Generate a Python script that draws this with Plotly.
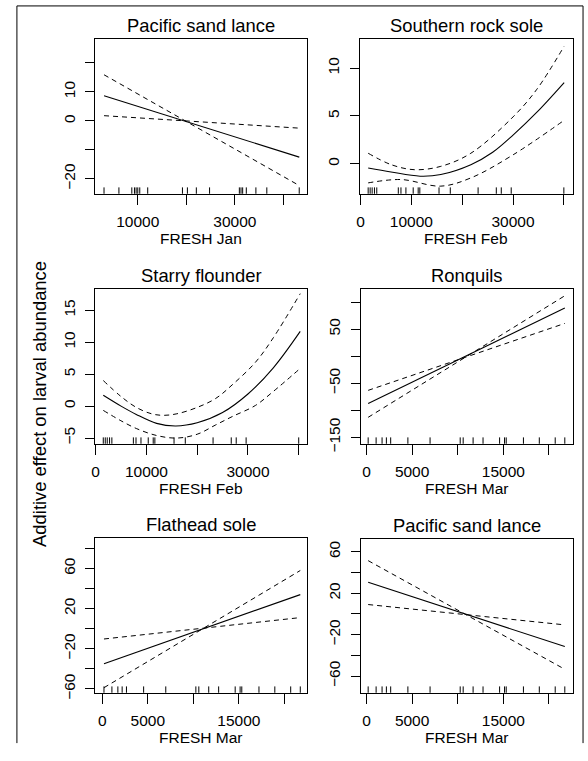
import plotly.graph_objects as go

W, H = 588, 761

# ---------------- data ----------------
titles = ["Pacific sand lance", "Southern rock sole", "Starry flounder",
          "Ronquils", "Flathead sole", "Pacific sand lance"]
xlabels = ["FRESH Jan", "FRESH Feb", "FRESH Feb", "FRESH Mar", "FRESH Mar", "FRESH Mar"]
ylabel = "Additive effect on larval abundance"

# Panel 1: Pacific sand lance ~ FRESH Jan
p1_x = [3050, 43270]
p1_fit = [8.7, -12.5]
p1_se_a = [15.9, -22.3]
p1_se_b = [1.8, -2.5]

# Panel 2: Southern rock sole ~ FRESH Feb
p2_x = [1500, 6000, 11700, 15800, 21700, 26000, 30000, 34700, 40060]
p2_fit = [-0.44, -0.86, -1.3, -1.13, -0.1, 1.2, 3.0, 5.4, 8.5]
p2_up_x = [1500, 6060, 10600, 15800, 21700, 30000, 34700, 40060]
p2_up = [1.1, -0.1, -0.62, -0.27, 1.1, 4.9, 7.8, 12.3]
p2_lo_x = [1500, 8000, 15800, 21700, 30000, 40060]
p2_lo = [-2.0, -1.65, -2.34, -1.48, 0.93, 4.55]

# Panel 3: Starry flounder ~ FRESH Feb
p3_x = [1500, 5000, 8000, 12000, 15800, 20000, 25000, 30000, 35000, 40300]
p3_fit = [1.7, 0.0, -1.3, -2.7, -3.1, -2.6, -1.0, 1.9, 6.0, 11.7]
p3_up_x = [1500, 5000, 8000, 11000, 13250, 16000, 20000, 23650, 27000, 31466, 35000, 40300]
p3_up = [4.0, 1.5, -0.2, -1.2, -1.44, -1.2, -0.2, 1.2, 3.4, 6.85, 10.7, 17.6]
p3_lo_x = [1500, 5000, 8000, 12000, 16000, 20000, 23650, 27000, 31466, 35000, 40300]
p3_lo = [-0.67, -2.3, -3.5, -4.6, -5.0, -4.4, -2.94, -1.6, 0.1, 2.3, 5.9]

# Panel 4: Ronquils ~ FRESH Mar
p4_x = [181, 21743]
p4_fit = [-87.2, 89.0]
p4_se_a = [-112.8, 111.7]
p4_se_b = [-63.0, 60.6]

# Panel 5: Flathead sole ~ FRESH Mar
p5_x = [181, 21743]
p5_fit = [-34.8, 34.0]
p5_se_a = [-58.7, 58.0]
p5_se_b = [-10.2, 11.1]

# Panel 6: Pacific sand lance ~ FRESH Mar
p6_x = [181, 21743]
p6_fit = [30.5, -31.4]
p6_se_a = [51.4, -53.3]
p6_se_b = [9.1, -10.5]

# Rug (observed covariate values)
rug_jan = [3047, 6114, 8773, 9318, 9659, 10000, 10409, 12045, 19202, 20225, 22065,
           24792, 30927, 31268, 31609, 32359, 34336, 36585, 43265]
rug_feb = [1498, 1889, 2280, 2736, 3192, 7427, 7948, 8925, 10358, 11336, 11661,
           15440, 17655, 23127, 26710, 27687, 29642, 40000]
rug_mar = [181, 1053, 1706, 2178, 2650, 4537, 6969, 10272, 10599, 11688, 12777,
           14592, 15136, 15318, 17205, 18947, 20690, 21743]

# Axis ticks
xt_jan = [10000, 20000, 30000, 40000]
xt_jan_txt = ["10000", "", "30000", ""]
xt_feb = [0, 10000, 20000, 30000, 40000]
xt_feb_txt = ["0", "10000", "", "30000", ""]
xt_mar = [0, 5000, 10000, 15000, 20000]
xt_mar_txt = ["0", "5000", "", "15000", ""]

yt1 = [-20, -10, 0, 10, 20]
yt1_txt = ["\u221220", "", "0", "10", ""]
yt2 = [0, 5, 10]
yt2_txt = ["0", "5", "10"]
yt3 = [-5, 0, 5, 10, 15]
yt3_txt = ["\u22125", "0", "5", "10", "15"]
yt4 = [-150, -100, -50, 0, 50, 100]
yt4_txt = ["\u2212150", "", "\u221250", "", "50", ""]
yt5 = [-60, -40, -20, 0, 20, 40, 60, 80]
yt5_txt = ["\u221260", "", "\u221220", "", "20", "", "60", ""]
yt6 = [-60, -40, -20, 0, 20, 40, 60]
yt6_txt = ["\u221260", "", "\u221220", "", "20", "", "60"]

# ---------------- layout geometry (pixels) ----------------
boxes = [
    (92, 305, 39, 196),
    (358, 573, 39, 196),
    (92, 305, 292, 449),
    (359, 573, 292, 449),
    (92, 305, 544, 701),
    (359, 573, 545, 701),
]
xranges = [[1264, 44849], [-195, 41820], [-59, 41620],
           [-653, 22652], [-764, 22473], [-653, 22652]]
yranges = [[-25.1, 28.4], [-3.13, 13.1], [-5.88, 18.4],
           [-161.5, 125], [-63.7, 90.8], [-75.9, 72.7]]

panels = [
    dict(fit=(p1_x, p1_fit), bands=[(p1_x, p1_se_a), (p1_x, p1_se_b)], rug=rug_jan,
         xt=(xt_jan, xt_jan_txt), yt=(yt1, yt1_txt), shape="linear"),
    dict(fit=(p2_x, p2_fit), bands=[(p2_up_x, p2_up), (p2_lo_x, p2_lo)], rug=rug_feb,
         xt=(xt_feb, xt_feb_txt), yt=(yt2, yt2_txt), shape="spline"),
    dict(fit=(p3_x, p3_fit), bands=[(p3_up_x, p3_up), (p3_lo_x, p3_lo)], rug=rug_feb,
         xt=(xt_feb, xt_feb_txt), yt=(yt3, yt3_txt), shape="spline"),
    dict(fit=(p4_x, p4_fit), bands=[(p4_x, p4_se_a), (p4_x, p4_se_b)], rug=rug_mar,
         xt=(xt_mar, xt_mar_txt), yt=(yt4, yt4_txt), shape="linear"),
    dict(fit=(p5_x, p5_fit), bands=[(p5_x, p5_se_a), (p5_x, p5_se_b)], rug=rug_mar,
         xt=(xt_mar, xt_mar_txt), yt=(yt5, yt5_txt), shape="linear"),
    dict(fit=(p6_x, p6_fit), bands=[(p6_x, p6_se_a), (p6_x, p6_se_b)], rug=rug_mar,
         xt=(xt_mar, xt_mar_txt), yt=(yt6, yt6_txt), shape="linear"),
]

FONT = "Liberation Sans, Arial, Helvetica, sans-serif"

fig = go.Figure()
layout = dict(
    width=W, height=H, autosize=False,
    margin=dict(l=0, r=0, t=0, b=0),
    paper_bgcolor="white", plot_bgcolor="white",
    showlegend=False,
    font=dict(family=FONT, color="black", size=15.5),
)
annotations = []
shapes = []

def px(x):
    return x / W

def py(y):
    return 1 - y / H

for i, p in enumerate(panels):
    n = i + 1
    xa = "x" if n == 1 else f"x{n}"
    ya = "y" if n == 1 else f"y{n}"
    l, r, t, b = boxes[i]

    # confidence bands (dashed)
    for bx, by in p["bands"]:
        fig.add_trace(go.Scatter(x=bx, y=by, mode="lines", xaxis=xa, yaxis=ya,
                                 line=dict(color="black", width=1, dash="5px,4px",
                                           shape=p["shape"]),
                                 hoverinfo="skip"))
    # fitted smooth (solid)
    fx, fy = p["fit"]
    fig.add_trace(go.Scatter(x=fx, y=fy, mode="lines", xaxis=xa, yaxis=ya,
                             line=dict(color="black", width=1.1, shape=p["shape"]),
                             hoverinfo="skip"))
    # rug
    fig.add_trace(go.Scatter(x=p["rug"], y=[yranges[i][0]] * len(p["rug"]),
                             mode="markers", xaxis=xa, yaxis=ya, cliponaxis=True,
                             marker=dict(symbol="line-ns", size=9, color="black",
                                         line=dict(color="black", width=1)),
                             hoverinfo="skip"))

    xkey = "xaxis" if n == 1 else f"xaxis{n}"
    ykey = "yaxis" if n == 1 else f"yaxis{n}"
    layout[xkey] = dict(
        domain=[px(l), px(r)], anchor=ya, range=xranges[i],
        tickmode="array", tickvals=p["xt"][0], ticktext=p["xt"][1],
        ticks="outside", ticklen=10, tickwidth=1, tickcolor="black",
        showline=True, mirror=True, linecolor="black", linewidth=1,
        showgrid=False, zeroline=False, ticklabelstandoff=4,
        tickfont=dict(size=15.5, family=FONT, color="black"),
    )
    layout[ykey] = dict(
        domain=[py(b), py(t)], anchor=xa, range=yranges[i],
        tickmode="array", tickvals=p["yt"][0], ticktext=p["yt"][1],
        ticks="outside", ticklen=9, tickwidth=1, tickcolor="black",
        showline=True, mirror=True, linecolor="black", linewidth=1,
        showgrid=False, zeroline=False, tickangle=-90, ticklabelstandoff=4,
        tickfont=dict(size=15.5, family=FONT, color="black"),
    )
    # panel title
    annotations.append(dict(text=titles[i], x=px((l + r) / 2), y=py(t - 13),
                            xref="paper", yref="paper", showarrow=False,
                            xanchor="center", yanchor="middle",
                            font=dict(size=18.4, family=FONT, color="black")))
    # x-axis title
    annotations.append(dict(text=xlabels[i], x=px((l + r) / 2), y=py(b + 45),
                            xref="paper", yref="paper", showarrow=False,
                            xanchor="center", yanchor="middle",
                            font=dict(size=15.5, family=FONT, color="black")))

# common y-axis title
annotations.append(dict(text=ylabel, x=px(35), y=py(409), xref="paper", yref="paper",
                        showarrow=False, textangle=-90, xanchor="center", yanchor="middle",
                        font=dict(size=18.4, family=FONT, color="black")))

# outer frame (left, top, right)
fx0, fx1, fy0, fy1 = px(13), px(583), py(6), py(752)
shapes.append(dict(type="path", xref="paper", yref="paper",
                   path=f"M {fx0},{fy1} L {fx0},{fy0} L {fx1},{fy0} L {fx1},{fy1}",
                   line=dict(color="black", width=1)))

layout["annotations"] = annotations
layout["shapes"] = shapes
fig.update_layout(**layout)

fig.write_html("out.html")
